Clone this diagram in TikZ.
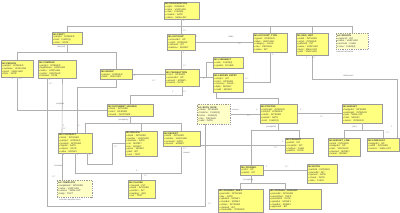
\documentclass[tikz,border=0pt]{standalone}
\usepackage{fontspec}
\setmainfont{Liberation Sans}
\usepackage{xcolor}
\usetikzlibrary{positioning,calc}
\definecolor{Note}{HTML}{FFFF80}
\definecolor{NoteSoft}{HTML}{FFFFC8}
\definecolor{Edge}{HTML}{9A9A9A}
\definecolor{Wire}{HTML}{B0B0B0}
\definecolor{Ink}{HTML}{3A3A3A}
\definecolor{Muted}{HTML}{6A6A6A}
\tikzset{
  entity/.style={draw=Edge,fill=Note,anchor=north west,align=left,inner sep=0.8pt,line width=0.5pt,font=\fontsize{2.3}{2.7}\selectfont,text=Ink},
  extern/.style={entity,fill=NoteSoft,dash pattern=on 1pt off 0.8pt},
  link/.style={draw=Wire,line width=0.6pt},
  lbl/.style={anchor=west,inner sep=0.2pt,font=\fontsize{2.1}{2.5}\selectfont,text=Muted}
}

\begin{document}
\begin{tikzpicture}[x=1pt,y=-1pt]
  \useasboundingbox (0,0) rectangle (400,213);
  % row 1
  \node[entity,text width=33.4pt,minimum height=17pt] (A) at (164,2) {\textbf{tbl::ORGANIZATION}\\ \textbullet\ orgId : INTEGER\\ \textbullet\ name : VARCHAR\\ \textbullet\ code : CHAR(8)\\ \textbullet\ created : DATE\\ \textbullet\ status : SMALLINT};
  % row 2
  \node[entity,text width=28.4pt,minimum height=12pt] (B) at (52,32) {\textbf{tbl::PARTY}\\ \textbullet\ partyId : INTEGER\\ \textbullet\ kind : CHAR(1)\\ \textbullet\ since : DATE};
  \node[entity,text width=26.4pt,minimum height=16pt] (C) at (167,34) {\textbf{tbl::ACCOUNT}\\ \textbullet\ accountId : INT\\ \textbullet\ orgId : INTEGER\\ \textbullet\ ownerId : INT\\ \textbullet\ balance : MONEY};
  \node[entity,text width=32.4pt,minimum height=19pt] (D) at (253,33) {\textbf{tbl::ACCOUNT\_TYPE}\\ \textbullet\ typeId : INTEGER\\ \textbullet\ label : VARCHAR\\ \textbullet\ category : CHAR\\ \textbullet\ rate : DECIMAL\\ \textbullet\ active : BIT};
  \node[entity,text width=30.4pt,minimum height=22pt] (E) at (296,33) {\textbf{tbl::ORG\_UNIT}\\ \textbullet\ unitId : INTEGER\\ \textbullet\ orgId : INTEGER\\ \textbullet\ parentId : INT\\ \textbullet\ name : VARCHAR\\ \textbullet\ level : SMALLINT\\ \textbullet\ path : VARCHAR};
  \node[extern,text width=30.4pt,minimum height=16pt] (F) at (336,33) {\textbf{ext::REGION}\\ \textbullet\ regionId : INT\\ \textbullet\ name : VARCHAR\\ \textbullet\ isoCode : CHAR\\ \textbullet\ zone : CHAR(4)};
  \node[lbl,below right=0.8pt and 0pt of F.south west] (Fnote) {external reference};
  % row 3
  \node[entity,text width=28.4pt,minimum height=11pt] (V2) at (213,57) {\textbf{tbl::CURRENCY}\\ \textbullet\ code : CHAR(3)\\ \textbullet\ symbol : NCHAR};
  \node[entity,text width=30.4pt,minimum height=17pt] (G) at (1,60) {\textbf{tbl::PERSON}\\ \textbullet\ partyId : INTEGER\\ \textbullet\ surname : VARCHAR\\ \textbullet\ given : VARCHAR\\ \textbullet\ born : DATE};
  \node[entity,text width=36.4pt,minimum height=18pt] (H) at (38,60) {\textbf{tbl::COMPANY}\\ \textbullet\ partyId : INTEGER\\ \textbullet\ legalName : VARCHAR\\ \textbullet\ taxNo : VARCHAR\\ \textbullet\ regNo : VARCHAR\\ \textbullet\ founded : DATE};
  \node[entity,text width=30.4pt,minimum height=10pt] (I) at (100,69) {\textbf{tbl::GROUP}\\ \textbullet\ partyId : INTEGER\\ \textbullet\ label : VARCHAR};
  \node[entity,text width=32.4pt,minimum height=17pt] (J) at (165,69) {\textbf{tbl::TRANSACTION}\\ \textbullet\ txnId : INTEGER\\ \textbullet\ accountId : INT\\ \textbullet\ amount : MONEY\\ \textbullet\ booked : DATE};
  \node[entity,text width=28.4pt,minimum height=19pt] (V) at (213,73) {\textbf{tbl::LEDGER\_ENTRY}\\ \textbullet\ entryId : INT\\ \textbullet\ txnId : INTEGER\\ \textbullet\ currency : CHAR\\ \textbullet\ debit : MONEY\\ \textbullet\ credit : MONEY};
  % row 4
  \node[entity,text width=44.4pt,minimum height=12pt] (K2) at (107,104) {\textbf{tbl::DOCUMENT\_HEADER}\\ \textbullet\ docId : INTEGER\\ \textbullet\ txnId : INTEGER\\ \textbullet\ issued : DATETIME};
  \node[extern,text width=31.4pt,minimum height=20pt] (X) at (197,104) {\textbf{ext::EXCH\_RATE}\\ \textbullet\ rateId : INTEGER\\ \textbullet\ fromCur : CHAR(3)\\ \textbullet\ toCur : CHAR(3)\\ \textbullet\ rate : DECIMAL\\ \textbullet\ valid : DATE};
  \node[entity,text width=35.4pt,minimum height=19pt] (W) at (260,104) {\textbf{tbl::POSTING}\\ \textbullet\ postingId : INTEGER\\ \textbullet\ entryId : INTEGER\\ \textbullet\ rateId : INTEGER\\ \textbullet\ posted : DATE\\ \textbullet\ kind : CHAR(1)};
  \node[entity,text width=38.4pt,minimum height=19pt] (U) at (342,104) {\textbf{tbl::BUDGET}\\ \textbullet\ budgetId : INTEGER\\ \textbullet\ postingId : INTEGER\\ \textbullet\ year : SMALLINT\\ \textbullet\ total : MONEY\\ \textbullet\ owner : INTEGER};
  % row 5
  \node[entity,text width=30.4pt,minimum height=25pt] (M) at (125,131) {\textbf{tbl::INVOICE}\\ \textbullet\ docId : INTEGER\\ \textbullet\ number : VARCHAR\\ \textbullet\ dueDate : DATE\\ \textbullet\ net : MONEY\\ \textbullet\ tax : MONEY\\ \textbullet\ gross : MONEY\\ \textbullet\ paid : BIT\\ \textbullet\ note : TEXT};
  \node[entity,text width=35.4pt,minimum height=15pt] (N) at (163,131) {\textbf{tbl::RECEIPT}\\ \textbullet\ docId : INTEGER\\ \textbullet\ number : VARCHAR\\ \textbullet\ received : DATE\\ \textbullet\ amount : MONEY};
  \node[entity,text width=32.4pt,minimum height=20pt] (K) at (58,133) {\textbf{tbl::CONTRACT}\\ \textbullet\ docId : INTEGER\\ \textbullet\ partyId : INTEGER\\ \textbullet\ groupId : INTEGER\\ \textbullet\ signed : DATE\\ \textbullet\ expires : DATE\\ \textbullet\ value : MONEY};
  \node[entity,text width=26.4pt,minimum height=15pt] (S) at (285,138) {\textbf{tbl::PAYMENT}\\ \textbullet\ postId : INT\\ \textbullet\ receiptId : INT\\ \textbullet\ method : CHAR\\ \textbullet\ paidOn : DATE};
  \node[entity,text width=30.4pt,minimum height=18pt] (Z) at (328,138) {\textbf{tbl::BUDGET\_LINE}\\ \textbullet\ lineId : INTEGER\\ \textbullet\ budgetId : INT\\ \textbullet\ item : VARCHAR\\ \textbullet\ planned : MONEY\\ \textbullet\ actual : MONEY};
  \node[entity,text width=30.4pt,minimum height=13pt] (Y) at (367,138) {\textbf{tbl::FORECAST}\\ \textbullet\ budgetId : INT\\ \textbullet\ unitId : INTEGER\\ \textbullet\ horizon : SMALLINT};
  \node[entity,text width=28.4pt,minimum height=19pt] (T) at (307,164) {\textbf{tbl::BATCH}\\ \textbullet\ batchId : INTEGER\\ \textbullet\ journalId : INT\\ \textbullet\ opened : DATE\\ \textbullet\ closed : DATE\\ \textbullet\ state : CHAR};
  \node[entity,text width=21.4pt,minimum height=10pt] (P) at (240,165) {\textbf{tbl::JOURNAL}\\ \textbullet\ jrnlId : INT\\ \textbullet\ postId : INT};
  % row 6
  \node[extern,text width=33.4pt,minimum height=17pt] (L) at (57,180) {\textbf{ext::TEMPLATE}\\ \textbullet\ templateId : INTEGER\\ \textbullet\ name : VARCHAR\\ \textbullet\ version : SMALLINT\\ \textbullet\ body : TEXT};
  \node[lbl,below right=0.8pt and 2pt of L.south west] (Lnote) {external template store};
  \node[entity,text width=25.4pt,minimum height=18pt] (O) at (128,180) {\textbf{tbl::CLAUSE}\\ \textbullet\ clauseId : INT\\ \textbullet\ docId : INTEGER\\ \textbullet\ position : INT\\ \textbullet\ heading : VAR\\ \textbullet\ text : TEXT};
  \node[entity,text width=43.4pt,minimum height=23pt] (Q) at (218,189) {\textbf{tbl::JOURNAL\_DAILY}\\ \textbullet\ journalId : INTEGER\\ \textbullet\ day : DATE\\ \textbullet\ openBal : MONEY\\ \textbullet\ closeBal : MONEY\\ \textbullet\ entries : INTEGER\\ \textbullet\ checked : BIT\\ \textbullet\ checkedBy : INTEGER};
  \node[entity,text width=50.4pt,minimum height=20pt] (R) at (269,189) {\textbf{tbl::JOURNAL\_PERIODIC}\\ \textbullet\ journalId : INTEGER\\ \textbullet\ periodStart : DATE\\ \textbullet\ periodEnd : DATE\\ \textbullet\ openBal : MONEY\\ \textbullet\ closeBal : MONEY\\ \textbullet\ approved : BIT};

  % bends and buses
  \coordinate (topbus) at (0,26);
  \coordinate (partybus) at (0,52);
  \coordinate (rightbus) at (0,79);
  \coordinate (groupbus) at (0,87);
  \coordinate (txnbus) at (0,95);
  \coordinate (ledgerbus) at (0,98);
  \coordinate (docbus) at (0,123);
  \coordinate (postbus) at (0,130);
  \coordinate (contrbend) at (112,164);
  \coordinate (clausebus) at (0,173);
  \coordinate (journalbus) at (0,183);
  \coordinate (bottombus) at (0,206);
  \coordinate (hA) at ($(H.south west)+(9,0)$);
  \coordinate (hB) at ($(H.south east)+(-14,0)$);
  \coordinate (kA) at ($(K.north west)+(4,0)$);
  \coordinate (kB) at ($(K.north west)+(19,0)$);
  \coordinate (kC) at ($(K.north east)+(-7,0)$);
  \coordinate (kD) at ($(K.south west)+(4,0)$);
  \coordinate (kE) at ($(K.south east)+(-5,0)$);
  \coordinate (lA) at ($(L.north west)+(5,0)$);
  \coordinate (xA) at ($(X.south west)+(8,0)$);
  \coordinate (vA) at ($(V.south west)+(3,0)$);
  \coordinate (yA) at ($(Y.north east)+(-2,0)$);
  \coordinate (rA) at ($(R.north west)+(16,0)$);
  \coordinate (nA) at ($(N.south east)+(0,-1.5)$);
  \coordinate (jv) at ($(J.east)!0.5!(J.east -| V.west)$);

  \draw[link] (A.south) -- (A.south |- C.north);
  \draw[link] (B.north) |- (topbus -| F.north) -- (F.north);
  \draw[link] (D.north) -- (D.north |- topbus);
  \draw[link] (E.north) -- (E.north |- topbus);
  \draw[link] (B.south) -- (B.south |- partybus);
  \draw[link] (G.north) |- (partybus -| I.north) -- (I.north);
  \draw[link] (C.east) -- (C.east -| D.west);
  \draw[link] (C.south) -- (C.south |- J.north);
  \draw[link] (D.south) |- (V.east);
  \draw[link] (E.south) |- (rightbus -| yA) -- (yA);
  \draw[link] (J.east) -- (J.east -| V.west);
  \draw[link] (V2.west) -| (jv);
  \draw[link] (I.east) -- (I.east -| J.west);
  \draw[link] (J.south) |- (txnbus -| K2.north) -- (K2.north);
  \draw[link] (G.south) |- (K2.west);
  \draw[link] (vA) |- (ledgerbus -| W.north) -- (W.north);
  \draw[link] (X.east) -- (X.east -| W.west);
  \draw[link] (W.east) -- (W.east -| U.west);
  \draw[link] (W.south) -- (W.south |- postbus);
  \draw[link] (P.north) |- (postbus -| S.north) -- (S.north);
  \draw[link] (nA) -- (nA -| S.west);
  \draw[link] (P.east) -- (P.east -| T.west);
  \draw[link] (P.south) -- (P.south |- journalbus);
  \draw[link] (Q.north) |- (journalbus -| rA) -- (rA);
  \draw[link] (U.south) -- (U.south |- postbus);
  \draw[link] (Z.north) |- (postbus -| Y.north) -- (Y.north);
  \draw[link] (K2.south) -- (K2.south |- docbus);
  \draw[link] (kC) |- (docbus -| N.north) -- (N.north);
  \draw[link] (M.north) -- (M.north |- docbus);
  \draw[link] (I.south) |- (groupbus -| kB) -- (kB);
  \draw[link] (hB) -- (kA);
  \draw[link] (hA) |- (bottombus -| xA) -- (xA);
  \draw[link] (kD) -- (lA);
  \draw[link] (K.south) |- (clausebus -| N.south) -- (N.south);
  \draw[link] (O.north) -- (O.north |- clausebus);
  \draw[link] (kE) |- (contrbend) |- (M.west);

  % multiplicities and roles
  \node[lbl] at (183,21) {1};
  \node[lbl] at (183,31) {0..*};
  \node[lbl] at (57,47) {\{disjoint\}};
  \node[lbl] at (196,37) {1};
  \node[lbl] at (228,37) {holds};
  \node[lbl] at (238,44) {0..*};
  \node[lbl] at (183,53) {1};
  \node[lbl] at (183,66) {0..*};
  \node[lbl] at (272,55) {1};
  \node[lbl] at (245,79) {0..*};
  \node[lbl] at (306,58) {1};
  \node[lbl] at (312,58) {0..*};
  \node[lbl] at (343,76) {references};
  \node[lbl] at (391,127) {1};
  \node[lbl] at (386,133) {0..*};
  \node[lbl] at (12,79) {1};
  \node[lbl] at (19,79) {0..*};
  \node[lbl] at (49,80) {1};
  \node[lbl] at (49,84) {0..*};
  \node[lbl] at (56,104) {employs};
  \node[lbl] at (63,126) {1};
  \node[lbl] at (63,129) {0..*};
  \node[lbl] at (78,126) {1};
  \node[lbl] at (134,76) {1};
  \node[lbl] at (152,81) {0..*};
  \node[lbl] at (203,79) {1};
  \node[lbl] at (172,92) {1};
  \node[lbl] at (183,92) {0..*};
  \node[lbl] at (232,110) {source};
  \node[lbl] at (247,116) {0..*};
  \node[lbl] at (256,110) {1};
  \node[lbl] at (300,110) {1};
  \node[lbl] at (320,117) {0..*};
  \node[lbl] at (266,127) {\{complete\}};
  \node[lbl] at (352,127) {\{xor\}};
  \node[lbl] at (118,120) {\{complete\}};
  \node[lbl] at (63,155) {1};
  \node[lbl] at (54,166) {contains};
  \node[lbl] at (52,177) {0..*};
  \node[lbl] at (77,155) {1};
  \node[lbl] at (89,155) {1};
  \node[lbl] at (114,147) {0..*};
  \node[lbl] at (183,149) {0..*};
  \node[lbl] at (183,153) {issued};
  \node[lbl] at (136,171) {1};
  \node[lbl] at (144,176) {0..*};
  \node[lbl] at (266,167) {1};
  \node[lbl] at (285,167) {0..*};
  \node[lbl] at (243,180) {\{complete\}};
  \node[lbl] at (274,148) {0..*};
  \node[lbl] at (282,142) {1};
  \node[lbl] at (208,204) {0..*};
\end{tikzpicture}
\end{document}
